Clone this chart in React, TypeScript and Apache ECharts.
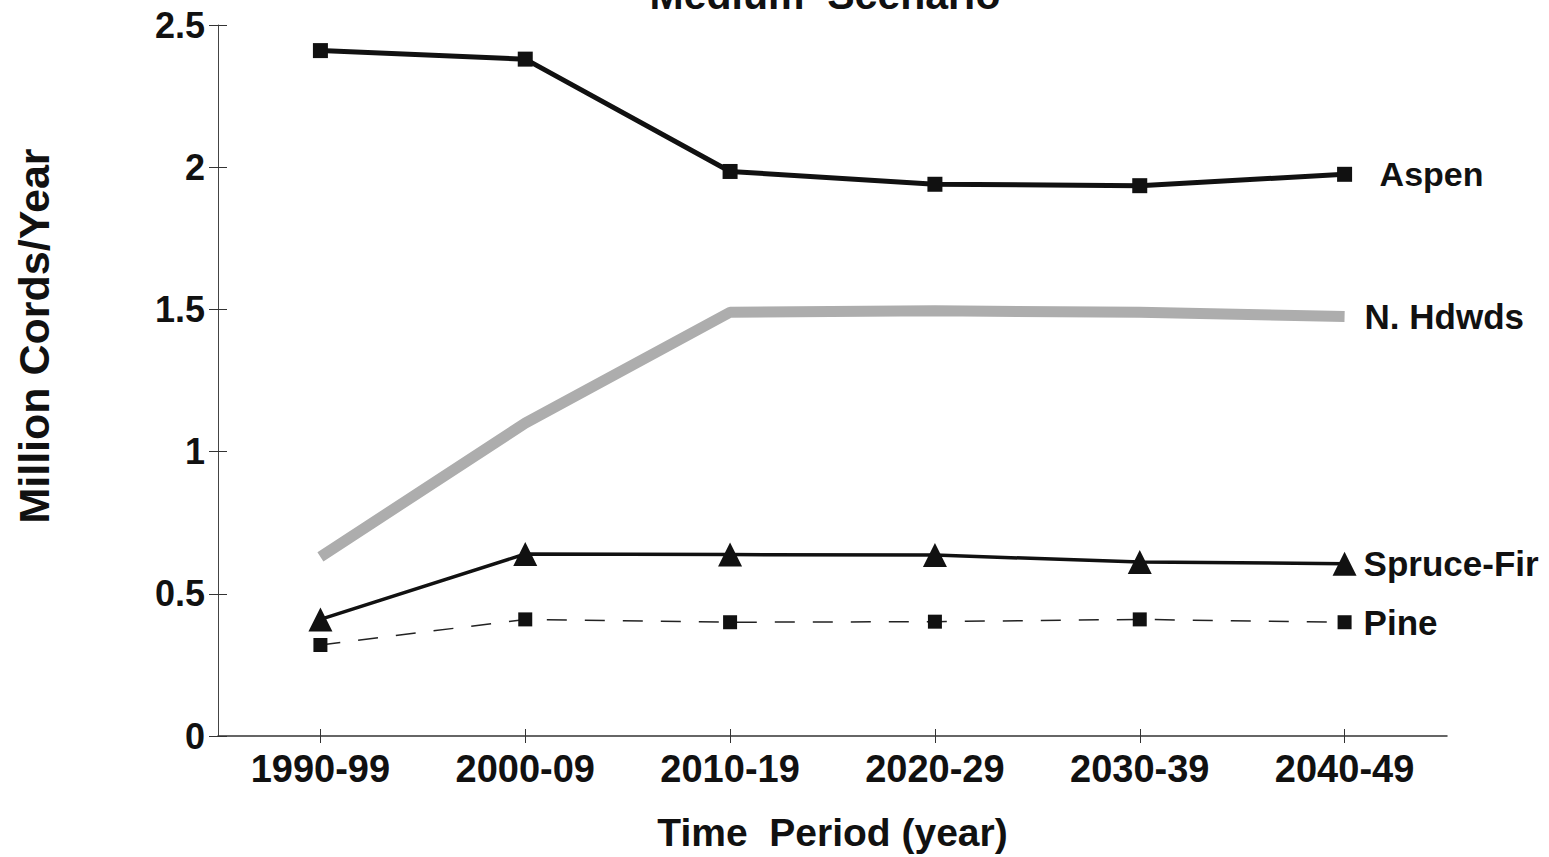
import React, { useEffect, useRef } from "react";
import * as echarts from "echarts";

const periods = ["1990-99", "2000-09", "2010-19", "2020-29", "2030-39", "2040-49"];
const aspen = [2.41, 2.38, 1.985, 1.94, 1.935, 1.975];
const nHdwds = [0.63, 1.1, 1.49, 1.495, 1.49, 1.475];
const spruceFir = [0.41, 0.64, 0.638, 0.636, 0.612, 0.606];
const pine = [0.32, 0.41, 0.40, 0.402, 0.41, 0.40];
const yTicks = [0, 0.5, 1, 1.5, 2, 2.5];

const FONT = "'Liberation Sans', Arial, Helvetica, sans-serif";

export default function App() {
  const ref = useRef<HTMLDivElement>(null);
  useEffect(() => {
    if (!ref.current) return;
    const chart = echarts.init(ref.current, undefined, { renderer: "svg" });
    const endLabel = (text: string, dist: number, size: number) => ({
      show: true,
      formatter: () => text,
      distance: dist,
      color: "#111",
      fontFamily: FONT,
      fontWeight: "bold",
      fontSize: size,
    });
    chart.setOption({
      animation: false,
      backgroundColor: "#ffffff",
      grid: { left: 218, top: 25, right: 102, bottom: 114, containLabel: false },
      graphic: [
        {
          type: "text",
          x: 825,
          y: 15,
          style: {
            text: "Medium  Scenario",
            align: "center",
            verticalAlign: "bottom",
            fontFamily: FONT,
            fontWeight: "bold",
            fontSize: 41,
            fill: "#111",
          },
        },
        {
          type: "text",
          x: 34,
          y: 336,
          rotation: Math.PI / 2,
          style: {
            text: "Million Cords/Year",
            align: "center",
            verticalAlign: "middle",
            fontFamily: FONT,
            fontWeight: "bold",
            fontSize: 43,
            fill: "#111",
          },
        },
      ],
      xAxis: [
        {
          type: "category",
          data: periods,
          boundaryGap: true,
          axisLine: { show: true, lineStyle: { color: "#333", width: 1.5 } },
          axisTick: { show: true, alignWithLabel: true, length: 7, lineStyle: { color: "#333" } },
          axisLabel: {
            color: "#111",
            fontFamily: FONT,
            fontWeight: "bold",
            fontSize: 38,
            margin: 14,
          },
          splitLine: { show: false },
          name: "Time  Period (year)",
          nameLocation: "middle",
          nameGap: 77,
          nameTextStyle: { color: "#111", fontFamily: FONT, fontWeight: "bold", fontSize: 39 },
        },
        {
          type: "category",
          data: periods,
          position: "bottom",
          boundaryGap: true,
          axisLine: { show: false },
          axisTick: { show: true, inside: true, alignWithLabel: true, length: 7, lineStyle: { color: "#333" } },
          axisLabel: { show: false },
          splitLine: { show: false },
        },
      ],
      yAxis: [
        {
          type: "value",
          min: yTicks[0],
          max: yTicks[yTicks.length - 1],
          interval: 0.5,
          axisLine: { show: true, lineStyle: { color: "#444", width: 1 } },
          axisTick: { show: true, length: 9, lineStyle: { color: "#333" } },
          axisLabel: {
            color: "#111",
            fontFamily: FONT,
            fontWeight: "bold",
            fontSize: 36,
            margin: 13,
            formatter: (v: number) => String(v),
          },
          splitLine: { show: false },
        },
        {
          type: "value",
          min: yTicks[0],
          max: yTicks[yTicks.length - 1],
          interval: 0.5,
          position: "left",
          axisLine: { show: false },
          axisTick: { show: true, inside: true, length: 9, lineStyle: { color: "#333" } },
          axisLabel: { show: false },
          splitLine: { show: false },
        },
      ],
      series: [
        {
          name: "Aspen",
          type: "line",
          data: aspen,
          symbol: "rect",
          symbolSize: 15,
          itemStyle: { color: "#111" },
          lineStyle: { color: "#111", width: 5 },
          endLabel: endLabel("Aspen", 35, 34),
        },
        {
          name: "N. Hdwds",
          type: "line",
          data: nHdwds,
          symbol: "none",
          lineStyle: { color: "#adadad", width: 11 },
          endLabel: endLabel("N. Hdwds", 20, 35),
        },
        {
          name: "Spruce-Fir",
          type: "line",
          data: spruceFir,
          symbol: "triangle",
          symbolSize: 24,
          itemStyle: { color: "#111" },
          lineStyle: { color: "#111", width: 3.5 },
          endLabel: endLabel("Spruce-Fir", 19, 35),
        },
        {
          name: "Pine",
          type: "line",
          data: pine,
          symbol: "rect",
          symbolSize: 14,
          itemStyle: { color: "#111" },
          lineStyle: { color: "#222", width: 1.5, type: [20, 18] },
          endLabel: endLabel("Pine", 19, 35),
        },
      ],
    });
    return () => chart.dispose();
  }, []);
  return (
    <div
      ref={ref}
      style={{ position: "fixed", left: 0, top: 0, width: 1549, height: 857, background: "#fff" }}
    />
  );
}
